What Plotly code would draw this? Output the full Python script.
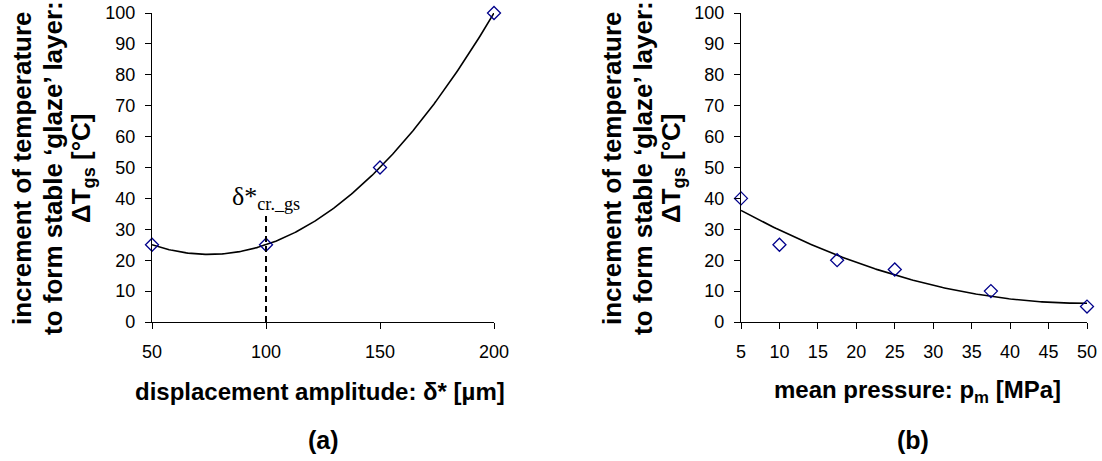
import numpy as np
import plotly.graph_objects as go

# ---- data ----
disp_amp = [50, 100, 150, 200]          # δ* [µm]
dT_disp = [25, 25, 50, 100]             # ΔT_gs [°C]
pressure = [5, 10, 17.5, 25, 37.5, 50]  # p_m [MPa]
dT_press = [40, 25, 20, 17, 10, 5]      # ΔT_gs [°C]
delta_cr = 100                          # critical displacement
delta_cr_top = 35                       # top of the marker line
y_ticks = list(range(0, 101, 10))
x1_ticks = [50, 100, 150, 200]
x2_ticks = list(range(5, 51, 5))

# polynomial (order 2) trendlines like the original spreadsheet
c1 = np.polyfit(disp_amp, dT_disp, 2)
xs1 = np.linspace(min(disp_amp), max(disp_amp), 200)
c2 = np.polyfit(pressure, dT_press, 2)
xs2 = np.linspace(min(pressure), max(pressure), 200)

W, H = 1102, 461
def px(x):
    return x / W
def py(y):
    return 1 - y / H

FONT = "Arial, Liberation Sans, sans-serif"
fig = go.Figure()

marker = dict(symbol="diamond-open", size=10, color="#00008B", line=dict(width=1.3))

fig.add_trace(go.Scatter(x=xs1, y=np.polyval(c1, xs1), mode="lines",
                         line=dict(color="black", width=1.6), xaxis="x", yaxis="y",
                         hoverinfo="skip"))
fig.add_trace(go.Scatter(x=disp_amp, y=dT_disp, mode="markers", marker=marker,
                         cliponaxis=False, xaxis="x", yaxis="y"))
fig.add_trace(go.Scatter(x=[delta_cr, delta_cr], y=[0, delta_cr_top], mode="lines",
                         line=dict(color="black", width=2, dash="6px,4px"),
                         xaxis="x", yaxis="y"))

fig.add_trace(go.Scatter(x=xs2, y=np.polyval(c2, xs2), mode="lines",
                         line=dict(color="black", width=1.6), xaxis="x2", yaxis="y2",
                         hoverinfo="skip"))
fig.add_trace(go.Scatter(x=pressure, y=dT_press, mode="markers", marker=marker,
                         cliponaxis=False, xaxis="x2", yaxis="y2"))

ydom = [py(322), py(13)]
axis_common = dict(showline=True, linecolor="black", linewidth=1.3, ticks="outside",
                   ticklen=6, tickwidth=1.3, tickcolor="black", showgrid=False,
                   zeroline=False, automargin=False,
                   tickfont=dict(family=FONT, size=18, color="black"))

fig.update_layout(
    width=W, height=H, showlegend=False,
    paper_bgcolor="white", plot_bgcolor="white",
    margin=dict(l=0, r=0, t=0, b=0, autoexpand=False),
    xaxis=dict(domain=[px(152), px(494)], range=[50, 200], tickvals=x1_ticks,
               anchor="y", ticklabelstandoff=7, **axis_common),
    yaxis=dict(domain=ydom, range=[0, 100], tickvals=y_ticks, anchor="x",
               ticklabelstandoff=6, **axis_common),
    xaxis2=dict(domain=[px(741), px(1087)], range=[5, 50], tickvals=x2_ticks,
                anchor="y2", ticklabelstandoff=7, **axis_common),
    yaxis2=dict(domain=ydom, range=[0, 100], tickvals=y_ticks, anchor="x2",
                ticklabelstandoff=6, **axis_common),
)

ytitle_lines = ["<b>increment of temperature</b>",
                "<b>to form stable \u2018glaze\u2019 layer:</b>",
                "<b>\u0394T<sub>gs</sub> [\u00b0C]</b>"]
ann = []
for base in (0, 590):
    for xc, line in zip((22, 53, 83), ytitle_lines):
        ann.append(dict(text=line, x=px(base + xc), y=py(168), xref="paper", yref="paper",
                        textangle=-90, showarrow=False, xanchor="center", yanchor="middle",
                        font=dict(family=FONT, size=26, color="black")))
bottom_texts = [("<b>displacement amplitude: \u03b4* [\u00b5m]</b>", 320, 391, 24),
                ("<b>mean pressure: p<sub>m</sub> [MPa]</b>", 917, 391, 24),
                ("<b>(a)</b>", 323, 440, 25),
                ("<b>(b)</b>", 913, 440, 25)]
for txt, xc, yc, fs in bottom_texts:
    ann.append(dict(text=txt, x=px(xc), y=py(yc), xref="paper", yref="paper",
                    xanchor="center", yanchor="middle", showarrow=False,
                    font=dict(family=FONT, size=fs, color="black")))
ann.append(dict(text="\u03b4*<sub>cr._gs</sub>", x=delta_cr, y=delta_cr_top, xref="x", yref="y",
                xanchor="center", yanchor="bottom", showarrow=False, yshift=-2,
                font=dict(family="Liberation Serif, Times New Roman, serif", size=26,
                          color="black")))
fig.update_layout(annotations=ann)

fig.write_html("out.html", config={"displayModeBar": False},
               post_script="document.body.style.margin='0';")
